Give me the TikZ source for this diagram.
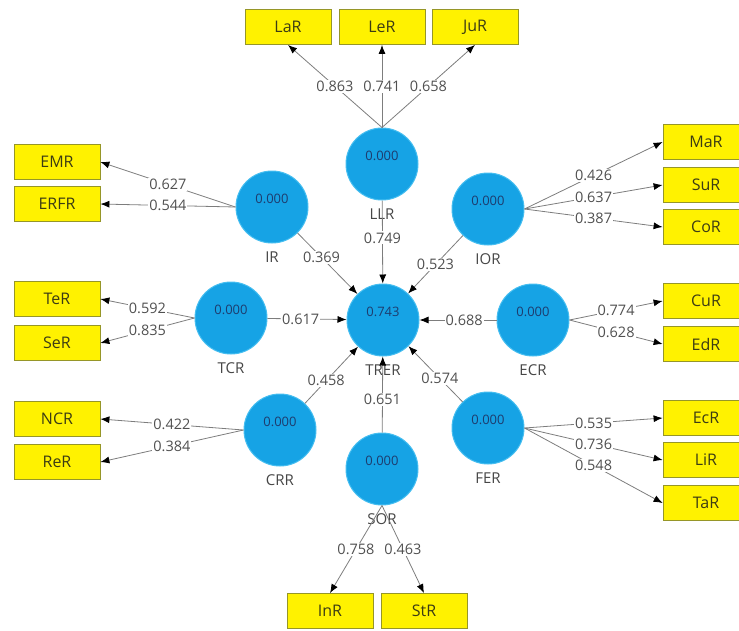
\documentclass[tikz,border=0pt]{standalone}
\usepackage{fontspec}
\setmainfont{Open Sans}
\usetikzlibrary{%
		arrows.meta%
	}
\definecolor{plsblue}{RGB}{22,163,229}
\definecolor{plsedge}{RGB}{70,190,240}
\definecolor{valtext}{RGB}{30,60,110}
\definecolor{namegray}{RGB}{70,70,70}
\definecolor{boxline}{RGB}{150,150,40}
\definecolor{boxtext}{RGB}{60,60,20}
\definecolor{linegray}{RGB}{125,125,125}
\definecolor{coefgray}{RGB}{80,80,80}

\begin{document}
\begin{tikzpicture}[x=1pt, y=-1pt, label distance=8pt,
		construct/.style={circle, fill=plsblue, draw=plsedge, line width=1pt, minimum size=72pt, inner sep=0pt},
		val/.style={yshift=8pt, text=valtext, font=\fontsize{13}{15}\selectfont},
		cname/.style={inner sep=0pt, text=namegray, font=\fontsize{15}{18}\selectfont},
		indicator/.style={rectangle, fill=yellow, draw=boxline, line width=0.8pt, minimum width=86pt, minimum height=35pt, text=boxtext, font=\fontsize{16}{19}\selectfont},
		loading/.style={draw=linegray, line width=0.8pt, -{Latex[length=9pt, width=7pt, color=black]}},
		coef/.style={fill=white, inner sep=1pt, text=coefgray, font=\fontsize{14.5}{17}\selectfont}]
			\useasboundingbox (0,0) rectangle (739,630);
			% constructs
			\node[construct, label={[val]center:0.000}, label={[cname]below:LLR}] (LLR) at (382,164) {};
			\node[construct, label={[val]center:0.000}, label={[cname]below:IR}] (IR) at (272,207) {};
			\node[construct, label={[val]center:0.000}, label={[cname]below:IOR}] (IOR) at (488,209) {};
			\node[construct, label={[val]center:0.000}, label={[cname]below:TCR}] (TCR) at (231,318) {};
			\node[construct, label={[val]center:0.743}, label={[cname]below:TRER}] (TRER) at (383,320) {};
			\node[construct, label={[val]center:0.000}, label={[cname]below:ECR}] (ECR) at (533,320) {};
			\node[construct, label={[val]center:0.000}, label={[cname]below:CRR}] (CRR) at (280,430) {};
			\node[construct, label={[val]center:0.000}, label={[cname]below:SOR}] (SOR) at (382,469) {};
			\node[construct, label={[val]center:0.000}, label={[cname]below:FER}] (FER) at (488,428) {};
			% indicators on top
			\node[indicator] (LaR) at (288,27) {LaR};
			\node[indicator] (LeR) at (382,27) {LeR};
			\node[indicator] (JuR) at (475,27) {JuR};
			% indicators on the left
			\node[indicator] (EMR) at (57,162) {EMR};
			\node[indicator] (ERFR) at (57,204) {ERFR};
			\node[indicator] (TeR) at (57,299) {TeR};
			\node[indicator] (SeR) at (57,343) {SeR};
			\node[indicator] (NCR) at (57,419) {NCR};
			\node[indicator] (ReR) at (57,462) {ReR};
			% indicators at the bottom
			\node[indicator] (InR) at (330,611) {InR};
			\node[indicator] (StR) at (424,611) {StR};
			% indicators on the right
			\node[indicator] (MaR) at (706,142) {MaR};
			\node[indicator] (SuR) at (706,185) {SuR};
			\node[indicator] (CoR) at (706,227) {CoR};
			\node[indicator] (CuR) at (706,301) {CuR};
			\node[indicator] (EdR) at (706,344) {EdR};
			\node[indicator] (EcR) at (706,418) {EcR};
			\node[indicator] (LiR) at (706,460) {LiR};
			\node[indicator] (TaR) at (706,503) {TaR};
			% loadings
			\draw[loading] (LLR.north) -- node[coef] {0.863} (LaR.south);
			\draw[loading] (LLR.north) -- node[coef] {0.741} (LeR.south);
			\draw[loading] (LLR.north) -- node[coef] {0.658} (JuR.south);
			\draw[loading] (IR.west) -- node[coef] {0.627} (EMR.east);
			\draw[loading] (IR.west) -- node[coef] {0.544} (ERFR.east);
			\draw[loading] (TCR.west) -- node[coef] {0.592} (TeR.east);
			\draw[loading] (TCR.west) -- node[coef] {0.835} (SeR.east);
			\draw[loading] (CRR.west) -- node[coef] {0.422} (NCR.east);
			\draw[loading] (CRR.west) -- node[coef] {0.384} (ReR.east);
			\draw[loading] (SOR.south) -- node[coef] {0.758} (InR.north);
			\draw[loading] (SOR.south) -- node[coef] {0.463} (StR.north);
			\draw[loading] (IOR.east) -- node[coef] {0.426} (MaR.west);
			\draw[loading] (IOR.east) -- node[coef] {0.637} (SuR.west);
			\draw[loading] (IOR.east) -- node[coef] {0.387} (CoR.west);
			\draw[loading] (ECR.east) -- node[coef] {0.774} (CuR.west);
			\draw[loading] (ECR.east) -- node[coef] {0.628} (EdR.west);
			\draw[loading] (FER.east) -- node[coef] {0.535} (EcR.west);
			\draw[loading] (FER.east) -- node[coef] {0.736} (LiR.west);
			\draw[loading] (FER.east) -- node[coef] {0.548} (TaR.west);
			% paths into TRER
			\draw[loading] (LLR) -- node[coef, pos=0.45] {0.749} (TRER);
			\draw[loading] (IR) -- node[coef, pos=0.4] {0.369} (TRER);
			\draw[loading] (IOR) -- node[coef, pos=0.5] {0.523} (TRER);
			\draw[loading] (TCR) -- node[coef, pos=0.42] {0.617} (TRER);
			\draw[loading] (ECR) -- node[coef, pos=0.42] {0.688} (TRER);
			\draw[loading] (CRR) -- node[coef, pos=0.4] {0.458} (TRER);
			\draw[loading] (FER) -- node[coef, pos=0.42] {0.574} (TRER);
			\draw[loading] (SOR) -- node[coef, pos=0.43] {0.651} (TRER);
		\end{tikzpicture}
\end{document}
